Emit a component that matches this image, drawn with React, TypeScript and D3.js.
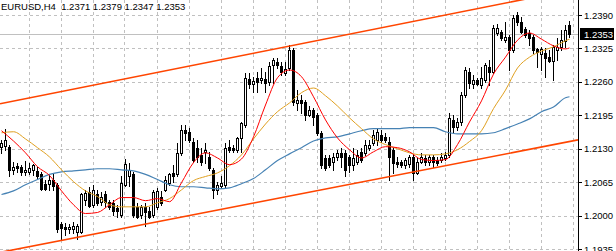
import React from 'react';
import * as d3 from 'd3';

// ---------- data ----------
const symbolLabel = 'EURUSD,H4';
const headerValues = ['1.2371', '1.2379', '1.2347', '1.2353'];
const priceTicks = [1.239, 1.2325, 1.226, 1.2195, 1.213, 1.2065, 1.2, 1.1935];
const lastPrice = 1.2353;

const opens = [
  1.2134, 1.2136, 1.2134, 1.2089, 1.2097, 1.2095, 1.2085, 1.2085, 1.2089, 1.2087,
  1.2081, 1.2062, 1.2062, 1.2070, 1.2060, 1.1984, 1.1977, 1.1973, 1.1973, 1.1969,
  1.1969, 1.2031, 1.2045, 1.2021, 1.2041, 1.2027, 1.2041, 1.2027, 1.2025, 1.2014,
  1.2002, 1.2060, 1.2076, 1.2080, 1.2017, 1.2002, 1.2017, 1.2008, 1.2002, 1.2017,
  1.2037, 1.2050, 1.2064, 1.2083, 1.2080, 1.2122, 1.2167, 1.2163, 1.2144, 1.2132,
  1.2118, 1.2124, 1.2114, 1.2089, 1.2050, 1.2058, 1.2060, 1.2134, 1.2132, 1.2128,
  1.2151, 1.2177, 1.2266, 1.2256, 1.2268, 1.2264, 1.2266, 1.2260, 1.2293, 1.2299,
  1.2291, 1.2277, 1.2287, 1.2322, 1.2219, 1.2225, 1.2221, 1.2196, 1.2206, 1.2196,
  1.2161, 1.2112, 1.2112, 1.2105, 1.2114, 1.2122, 1.2122, 1.2114, 1.2099, 1.2105,
  1.2124, 1.2122, 1.2132, 1.2142, 1.2147, 1.2157, 1.2153, 1.2144, 1.2128, 1.2105,
  1.2105, 1.2099, 1.2101, 1.2114, 1.2083, 1.2105, 1.2112, 1.2105, 1.2114, 1.2109,
  1.2109, 1.2112, 1.2118, 1.2186, 1.2173, 1.2182, 1.2235, 1.2279, 1.2256, 1.2264,
  1.2254, 1.2264, 1.2289, 1.2279, 1.2355, 1.2357, 1.2341, 1.2347, 1.2322, 1.2390,
  1.2376, 1.2363, 1.2355, 1.2347, 1.2324, 1.2314, 1.2316, 1.2308, 1.2301, 1.2322,
  1.2328, 1.2340, 1.2371,
];
const highs = [
  1.2147, 1.2169, 1.2138, 1.2105, 1.2103, 1.2099, 1.2107, 1.2103, 1.2101, 1.2095,
  1.2085, 1.2070, 1.2080, 1.2080, 1.2064, 1.1988, 1.1986, 1.1983, 1.1988, 1.1983,
  1.2043, 1.2050, 1.2056, 1.2060, 1.2050, 1.2045, 1.2047, 1.2031, 1.2031, 1.2021,
  1.2076, 1.2110, 1.2103, 1.2085, 1.2025, 1.2021, 1.2025, 1.2017, 1.2050, 1.2054,
  1.2047, 1.2076, 1.2083, 1.2099, 1.2142, 1.2177, 1.2177, 1.2171, 1.2151, 1.2147,
  1.2132, 1.2142, 1.2124, 1.2093, 1.2066, 1.2076, 1.2142, 1.2147, 1.2138, 1.2153,
  1.2182, 1.2277, 1.2277, 1.2270, 1.2279, 1.2287, 1.2279, 1.2299, 1.2307, 1.2307,
  1.2299, 1.2299, 1.2332, 1.2326, 1.2244, 1.2235, 1.2225, 1.2213, 1.2210, 1.2200,
  1.2165, 1.2118, 1.2118, 1.2122, 1.2128, 1.2132, 1.2128, 1.2118, 1.2132, 1.2128,
  1.2132, 1.2147, 1.2147, 1.2167, 1.2171, 1.2167, 1.2161, 1.2153, 1.2132, 1.2114,
  1.2109, 1.2112, 1.2118, 1.2118, 1.2112, 1.2122, 1.2118, 1.2118, 1.2118, 1.2114,
  1.2122, 1.2124, 1.2200, 1.2196, 1.2190, 1.2241, 1.2289, 1.2287, 1.2274, 1.2268,
  1.2289, 1.2297, 1.2303, 1.2371, 1.2372, 1.2361, 1.2376, 1.2351, 1.2390, 1.2396,
  1.2386, 1.2367, 1.2361, 1.2351, 1.2326, 1.2328, 1.2326, 1.2322, 1.2332, 1.2345,
  1.2361, 1.2371, 1.2379,
];
const lows = [
  1.2122, 1.2128, 1.2076, 1.2080, 1.2085, 1.2078, 1.2078, 1.2080, 1.2078, 1.2072,
  1.2050, 1.2050, 1.2050, 1.2050, 1.1969, 1.1953, 1.1963, 1.1967, 1.1967, 1.1955,
  1.1967, 1.2021, 1.2017, 1.2016, 1.2021, 1.2021, 1.2017, 1.2012, 1.2002, 1.1998,
  1.1998, 1.2058, 1.2058, 1.1998, 1.1996, 1.1996, 1.1979, 1.1996, 1.1998, 1.2012,
  1.2021, 1.2047, 1.2060, 1.2066, 1.2076, 1.2118, 1.2147, 1.2144, 1.2105, 1.2105,
  1.2099, 1.2103, 1.2089, 1.2035, 1.2041, 1.2054, 1.2056, 1.2124, 1.2124, 1.2124,
  1.2124, 1.2173, 1.2248, 1.2241, 1.2241, 1.2258, 1.2241, 1.2254, 1.2258, 1.2287,
  1.2274, 1.2274, 1.2283, 1.2215, 1.2206, 1.2200, 1.2186, 1.2194, 1.2177, 1.2157,
  1.2093, 1.2089, 1.2095, 1.2089, 1.2109, 1.2095, 1.2076, 1.2085, 1.2089, 1.2101,
  1.2105, 1.2118, 1.2128, 1.2138, 1.2138, 1.2144, 1.2144, 1.2070, 1.2083, 1.2095,
  1.2095, 1.2093, 1.2095, 1.2070, 1.2080, 1.2103, 1.2099, 1.2099, 1.2095, 1.2099,
  1.2105, 1.2109, 1.2114, 1.2163, 1.2167, 1.2177, 1.2231, 1.2248, 1.2248, 1.2254,
  1.2248, 1.2260, 1.2254, 1.2277, 1.2351, 1.2341, 1.2338, 1.2283, 1.2318, 1.2371,
  1.2355, 1.2347, 1.2332, 1.2316, 1.2289, 1.2283, 1.2270, 1.2299, 1.2264, 1.2303,
  1.2322, 1.2328, 1.2347,
];
const closes = [
  1.2142, 1.2147, 1.2089, 1.2095, 1.2093, 1.2085, 1.2089, 1.2093, 1.2099, 1.2076,
  1.2052, 1.2052, 1.2070, 1.2058, 1.1973, 1.1975, 1.1973, 1.1977, 1.1979, 1.1979,
  1.2041, 1.2043, 1.2019, 1.2050, 1.2025, 1.2037, 1.2027, 1.2017, 1.2008, 1.2008,
  1.2064, 1.2101, 1.2089, 1.2002, 1.1998, 1.2016, 1.2006, 1.1998, 1.2045, 1.2047,
  1.2025, 1.2070, 1.2080, 1.2076, 1.2122, 1.2167, 1.2161, 1.2147, 1.2109, 1.2114,
  1.2105, 1.2128, 1.2093, 1.2050, 1.2060, 1.2064, 1.2132, 1.2128, 1.2128, 1.2151,
  1.2180, 1.2268, 1.2256, 1.2262, 1.2260, 1.2268, 1.2258, 1.2291, 1.2303, 1.2293,
  1.2279, 1.2285, 1.2322, 1.2221, 1.2225, 1.2219, 1.2196, 1.2206, 1.2192, 1.2161,
  1.2099, 1.2093, 1.2099, 1.2114, 1.2122, 1.2114, 1.2089, 1.2099, 1.2112, 1.2118,
  1.2109, 1.2138, 1.2138, 1.2157, 1.2163, 1.2147, 1.2147, 1.2114, 1.2103, 1.2101,
  1.2099, 1.2109, 1.2114, 1.2083, 1.2105, 1.2114, 1.2105, 1.2114, 1.2105, 1.2103,
  1.2114, 1.2118, 1.2190, 1.2173, 1.2182, 1.2235, 1.2283, 1.2258, 1.2264, 1.2256,
  1.2268, 1.2293, 1.2279, 1.2365, 1.2365, 1.2345, 1.2347, 1.2322, 1.2384, 1.2376,
  1.2357, 1.2351, 1.2345, 1.2322, 1.2318, 1.2324, 1.2307, 1.2301, 1.2328, 1.2328,
  1.2341, 1.2361, 1.2353,
];

// moving averages, read at these bar indices
const maIndex = [
  0, 3, 6, 9, 12, 15, 18, 21, 24, 27, 30, 33, 36, 39, 42, 45, 48, 51, 54, 57,
  60, 63, 66, 69, 72, 75, 78, 81, 84, 87, 90, 93, 96, 99, 102, 105, 108, 111, 114, 117,
  120, 123, 126, 129, 132, 135, 138, 141, 142,
];
const maRed = [
  1.2165, 1.2145, 1.2122, 1.2095, 1.2078, 1.2048, 1.2021, 1.2004, 1.2006, 1.2021,
  1.2035, 1.2035, 1.2029, 1.2033, 1.2027, 1.2064, 1.2103, 1.2122, 1.2112, 1.2099,
  1.2110, 1.2153, 1.2215, 1.2268, 1.2283, 1.2270, 1.2231, 1.2186, 1.2151, 1.2128,
  1.2112, 1.2124, 1.2134, 1.2132, 1.2124, 1.2109, 1.2107, 1.2109, 1.2138, 1.2182,
  1.2223, 1.2275, 1.2308, 1.2341, 1.2355, 1.2343, 1.2330, 1.2324, 1.2326,
];
const maOrange = [
  1.2161, 1.2163, 1.2149, 1.2132, 1.2114, 1.2089, 1.2066, 1.2048, 1.2037, 1.2021,
  1.2017, 1.2017, 1.2017, 1.2025, 1.2033, 1.2050, 1.2068, 1.2076, 1.2083, 1.2097,
  1.2118, 1.2149, 1.2178, 1.2202, 1.2219, 1.2239, 1.2248, 1.2233, 1.2213, 1.2190,
  1.2169, 1.2149, 1.2138, 1.2130, 1.2122, 1.2118, 1.2118, 1.2120, 1.2128, 1.2144,
  1.2165, 1.2208, 1.2244, 1.2287, 1.2308, 1.2320, 1.2328, 1.2340, 1.2343,
];
const maBlue = [
  1.2041, 1.2048, 1.2060, 1.2070, 1.2080, 1.2085, 1.2087, 1.2089, 1.2091, 1.2091,
  1.2089, 1.2087, 1.2080, 1.2070, 1.2060, 1.2056, 1.2056, 1.2054, 1.2052, 1.2054,
  1.2062, 1.2072, 1.2089, 1.2107, 1.2120, 1.2132, 1.2145, 1.2151, 1.2153, 1.2159,
  1.2165, 1.2169, 1.2169, 1.2169, 1.2171, 1.2171, 1.2171, 1.2163, 1.2159, 1.2159,
  1.2159, 1.2161, 1.2169, 1.2178, 1.2188, 1.2202, 1.2211, 1.2229, 1.2231,
];

// channel lines: [barIndex, price] anchor points
const channelUpper: [number, number][] = [[0, 1.2218], [142, 1.2438]];
const channelLower: [number, number][] = [[0, 1.1929], [142, 1.2144]];

const gridEveryBars = 8;
const gridFirstBar = 6.875;

// ---------- layout ----------
const W = 616;
const H = 251;
const PLOT_R = 578;
const FONT = '"Liberation Sans", Arial, sans-serif';

export default function App() {
  const n = closes.length;
  const x = d3.scaleLinear().domain([0, n - 1]).range([1.5, 569.5]);
  const y = d3.scaleLinear().domain([1.1935, 1.239]).range([249, 15]);

  const crisp = (v: number) => Math.round(v) + 0.5;

  const vGrid: number[] = [];
  for (let b = gridFirstBar; x(b) < PLOT_R; b += gridEveryBars) vGrid.push(Math.floor(x(b)) + 0.5);

  const maLine = (vals: number[]) =>
    d3
      .line<number>()
      .x((_, k) => x(maIndex[k]))
      .y((v) => y(v))
      .curve(d3.curveMonotoneX)(vals) || '';

  const x0 = x.invert(0);
  const x1 = x.invert(PLOT_R);
  const chan = (pts: [number, number][]) => {
    const [[i0, p0], [i1, p1]] = pts;
    const s = (p1 - p0) / (i1 - i0);
    return { x1: 0, y1: y(p0 + s * (x0 - i0)), x2: PLOT_R, y2: y(p0 + s * (x1 - i0)) };
  };
  const up = chan(channelUpper);
  const lo = chan(channelLower);

  const candles = d3.range(n).map((i) => {
    const cx = x(i);
    const o = opens[i], h = highs[i], l = lows[i], c = closes[i];
    const bull = c >= o;
    const yTop = Math.round(y(Math.max(o, c)));
    const yBot = Math.round(y(Math.min(o, c)));
    return (
      <g key={i}>
        <line x1={cx} x2={cx} y1={Math.round(y(h))} y2={Math.round(y(l)) + 1} stroke="#000" strokeWidth={1} />
        <rect
          x={cx - 1}
          y={yTop + 0.5}
          width={2}
          height={Math.max(yBot - yTop, 0)}
          fill={bull ? '#fff' : '#000'}
          stroke="#000"
          strokeWidth={1}
        />
      </g>
    );
  });

  const yLast = y(lastPrice);

  return (
    <svg
      width={W}
      height={H}
      style={{ position: 'fixed', left: 0, top: 0, background: '#fff', display: 'block' }}
      xmlns="http://www.w3.org/2000/svg"
    >
      <defs>
        <clipPath id="plotClip">
          <rect x={0} y={0} width={PLOT_R} height={H} />
        </clipPath>
      </defs>
      <rect x={0} y={0} width={W} height={H} fill="#fff" />

      <g clipPath="url(#plotClip)">
        {/* grid */}
        <g stroke="#c0c0c0" strokeWidth={1} strokeDasharray="3,3" shapeRendering="crispEdges">
          {priceTicks.map((t) => (
            <line key={'h' + t} x1={0} x2={PLOT_R} y1={crisp(y(t))} y2={crisp(y(t))} />
          ))}
          {vGrid.map((gx) => (
            <line key={'v' + gx} x1={gx} x2={gx} y1={0} y2={H} />
          ))}
        </g>
        {/* last price line */}
        <line x1={0} x2={PLOT_R} y1={crisp(yLast)} y2={crisp(yLast)} stroke="#c0c0c0" strokeWidth={1} shapeRendering="crispEdges" />

        {/* candles */}
        <g shapeRendering="crispEdges">{candles}</g>

        {/* moving averages */}
        <path d={maLine(maBlue)} fill="none" stroke="#4682b4" strokeWidth={1.2} />
        <path d={maLine(maOrange)} fill="none" stroke="#e0a020" strokeWidth={1} />
        <path d={maLine(maRed)} fill="none" stroke="#ff0000" strokeWidth={1} />

        {/* channel */}
        <line {...up} stroke="#ff4500" strokeWidth={1.6} />
        <line {...lo} stroke="#ff4500" strokeWidth={1.6} />
      </g>

      {/* header */}
      <text x={1} y={10} fontFamily={FONT} fontSize={9.5} fill="#000" xmlSpace="preserve">
        {symbolLabel + '  ' + headerValues.join(' ')}
      </text>

      {/* right axis */}
      <line x1={PLOT_R + 0.5} x2={PLOT_R + 0.5} y1={0} y2={H} stroke="#000" strokeWidth={1} shapeRendering="crispEdges" />
      {priceTicks.map((t) => (
        <g key={'t' + t}>
          <line x1={PLOT_R} x2={PLOT_R + 4} y1={crisp(y(t))} y2={crisp(y(t))} stroke="#000" shapeRendering="crispEdges" />
          <text x={584} y={y(t) + 3.5} fontFamily={FONT} fontSize={9.5} fill="#000">
            {t.toFixed(4)}
          </text>
        </g>
      ))}
      <rect x={580} y={Math.round(yLast) - 6} width={34} height={12} fill="#000" />
      <text x={584} y={yLast + 3.5} fontFamily={FONT} fontSize={9.5} fill="#fff">
        {lastPrice.toFixed(4)}
      </text>
    </svg>
  );
}
